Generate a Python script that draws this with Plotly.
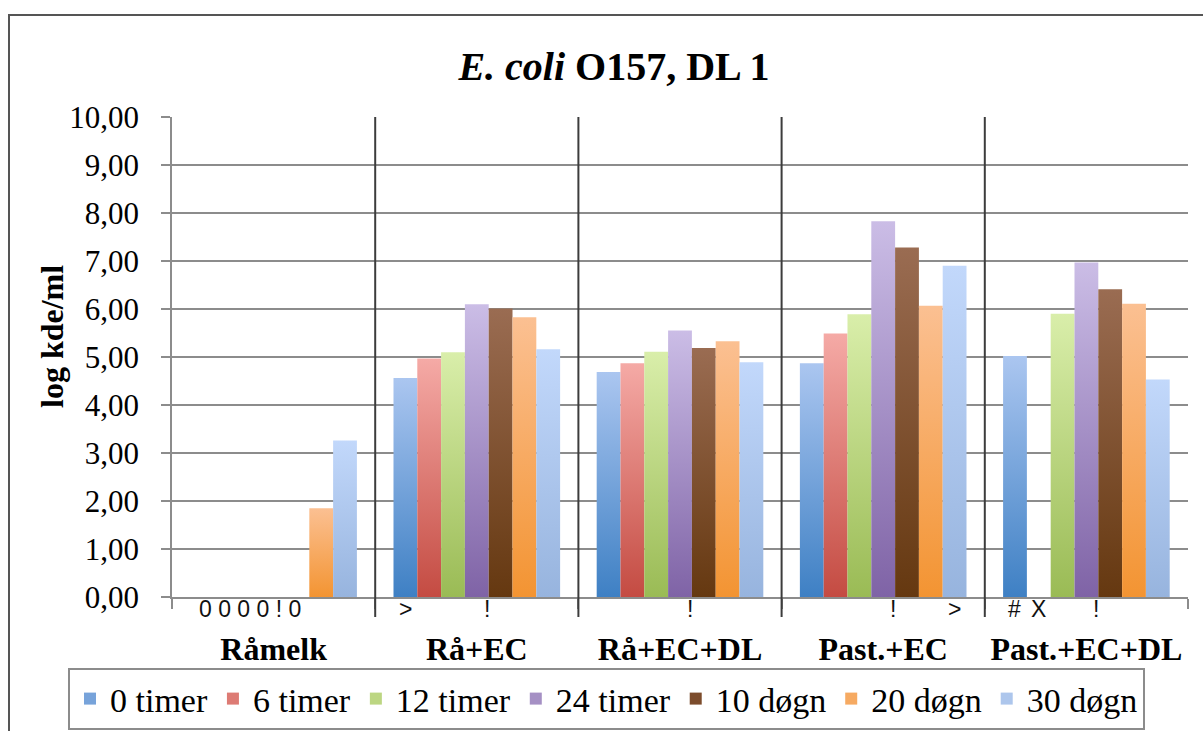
import json
import plotly.graph_objects as go

# Sample groups along the x axis
categories = ["Råmelk", "Rå+EC", "Rå+EC+DL", "Past.+EC", "Past.+EC+DL"]

# Sampling times (one bar series each) and their log kde/ml values
series_names = ["0 timer", "6 timer", "12 timer", "24 timer", "10 døgn", "20 døgn", "30 døgn"]
vals_0t = [0, 4.56, 4.69, 4.87, 5.02]
vals_6t = [0, 4.97, 4.87, 5.49, None]
vals_12t = [0, 5.10, 5.11, 5.89, 5.90]
vals_24t = [0, 6.10, 5.55, 7.83, 6.97]
vals_10d = [0, 6.01, 5.19, 7.28, 6.41]
vals_20d = [1.85, 5.83, 5.33, 6.07, 6.11]
vals_30d = [3.26, 5.16, 4.89, 6.90, 4.53]
series_values = [vals_0t, vals_6t, vals_12t, vals_24t, vals_10d, vals_20d, vals_30d]

# Small marks printed under the bars: (group, series the mark sits under, text)
notes = [
    ("Råmelk", "12 timer", "0 0 0 0 ! 0"),
    ("Rå+EC", "0 timer", ">"),
    ("Rå+EC", "24 timer", "!"),
    ("Rå+EC+DL", "24 timer", "!"),
    ("Past.+EC", "24 timer", "!"),
    ("Past.+EC", "30 døgn", ">"),
    ("Past.+EC+DL", "0 timer", "#"),
    ("Past.+EC+DL", "6 timer", "X"),
    ("Past.+EC+DL", "24 timer", "!"),
]

# Gradient colours per series (top, bottom)
grad_top = ["#abc6f0", "#f5aaa6", "#d9eeaa", "#cbbde6", "#9a6c52", "#fbc092", "#c2d8fb"]
grad_bot = ["#3e80c4", "#c44b42", "#9abb55", "#7f63a6", "#653810", "#f39432", "#97b4de"]
mid_col = ["#77a3da", "#dd7b74", "#bcd682", "#a590c4", "#7c4c2c", "#f6aa62", "#adc6ec"]

SERIF = "Liberation Serif"
SANS = "Liberation Sans"
GRID = "#8c8c8c"
DARK = "#3c3c3c"

W, H = 1203, 731
ML, MR, MT, MB = 172, 15, 117, 134
PW = W - ML - MR
PH = H - MT - MB

BARGAP = 0.18

fig = go.Figure()
for name, vals, col in zip(series_names, series_values, mid_col):
    fig.add_trace(go.Bar(
        name=name, x=categories, y=vals,
        marker=dict(color=col, line=dict(width=0)),
    ))

# Notes under the bars, placed at the slot of the bar they belong to
n_series = len(series_names)
slot_w = (1 - BARGAP) / n_series
nudge = {"!": 10}
annotations = []
for cat, ser, txt in notes:
    k = series_names.index(ser)
    xpos = categories.index(cat) + (k - (n_series - 1) / 2) * slot_w
    annotations.append(dict(
        x=xpos, xref="x", y=-12 / PH, yref="paper", yanchor="middle",
        xanchor="center", xshift=nudge.get(txt, 0),
        text=txt, showarrow=False, font=dict(family=SANS, size=23, color="#111"),
    ))

# y-axis title
annotations.append(dict(
    x=(52 - ML) / PW, xref="paper", y=(PH + MT - 337) / PH, yref="paper",
    xanchor="center", yanchor="middle",
    text="<b>log kde/ml</b>", textangle=-90, showarrow=False,
    font=dict(family=SERIF, size=32, color="black"),
))

shapes = []
# outer chart frame
shapes.append(dict(
    type="rect", xref="paper", yref="paper",
    x0=(9 - ML) / PW, x1=1.1, y0=-0.5, y1=(PH + MT - 15) / PH,
    line=dict(color="#555555", width=2), fillcolor="rgba(0,0,0,0)", layer="below",
))
# dividers between groups
n_cat = len(categories)
for k in range(1, n_cat):
    shapes.append(dict(
        type="line", xref="paper", yref="paper",
        x0=k / n_cat, x1=k / n_cat, y0=-20 / PH, y1=1,
        line=dict(color=DARK, width=2), layer="above",
    ))

fig.update_layout(
    width=W, height=H,
    margin=dict(l=ML, r=MR, t=MT, b=MB, autoexpand=False),
    paper_bgcolor="white", plot_bgcolor="white",
    font=dict(family=SERIF, color="black"),
    separators=", ",
    barmode="group", bargap=BARGAP, bargroupgap=0,
    title=dict(
        text="<b><i>E. coli</i> O157, DL 1</b>",
        x=614 / W, xanchor="center", xref="container",
        y=1 - 66 / H, yanchor="middle", yref="container",
        font=dict(family=SERIF, size=40, color="black"),
    ),
    xaxis=dict(
        type="category", range=[-0.5, n_cat - 0.5], automargin=False,
        showline=True, linecolor=GRID, linewidth=1.5,
        ticks="outside", tickson="boundaries", ticklen=10, tickwidth=1.5, tickcolor=GRID,
        showgrid=False, ticklabelstandoff=23,
        tickfont=dict(family=SERIF, size=32, color="black", weight="bold"),
    ),
    yaxis=dict(
        range=[0, 10], dtick=1, tickformat=".2f", automargin=False,
        showline=True, linecolor=GRID, linewidth=1.5,
        ticks="outside", ticklen=9, tickwidth=1.5, tickcolor=GRID,
        showgrid=True, gridcolor=GRID, gridwidth=1.5,
        zeroline=False, ticklabelstandoff=16,
        tickfont=dict(family=SERIF, size=31, color="black"),
    ),
    legend=dict(
        orientation="h", xref="paper", yref="paper",
        x=(68 - ML) / PW, xanchor="left", y=(PH + MT - 699) / PH, yanchor="middle",
        bordercolor=GRID, borderwidth=2, bgcolor="white",
        font=dict(family=SERIF, size=34, color="black"),
        itemwidth=30,
    ),
    annotations=annotations,
    shapes=shapes,
    showlegend=True,
)

# Vertical colour gradient on the bars and legend swatches
gradient_js = """
(function(){
var gd = document.getElementById('{plot_id}');
var tops = TOPS, bots = BOTS;
var ns = 'http://www.w3.org/2000/svg';
function ensureDefs(){
  var svg = gd.querySelector('svg.main-svg');
  var defs = svg.querySelector('defs');
  for (var i = 0; i < tops.length; i++) {
    var id = 'bargrad' + i;
    if (document.getElementById(id)) continue;
    var lg = document.createElementNS(ns, 'linearGradient');
    lg.setAttribute('id', id);
    lg.setAttribute('x1', '0'); lg.setAttribute('y1', '0');
    lg.setAttribute('x2', '0'); lg.setAttribute('y2', '1');
    var s1 = document.createElementNS(ns, 'stop');
    s1.setAttribute('offset', '0'); s1.setAttribute('stop-color', tops[i]);
    var s2 = document.createElementNS(ns, 'stop');
    s2.setAttribute('offset', '1'); s2.setAttribute('stop-color', bots[i]);
    lg.appendChild(s1); lg.appendChild(s2); defs.appendChild(lg);
  }
}
function paint(){
  ensureDefs();
  gd.querySelectorAll('.barlayer .trace.bars').forEach(function(tr, i){
    tr.querySelectorAll('path').forEach(function(p){ p.style.fill = 'url(#bargrad' + i + ')'; });
  });
  gd.querySelectorAll('.legend .traces').forEach(function(tr, i){
    tr.querySelectorAll('path.legendbar').forEach(function(p){ p.style.fill = 'url(#bargrad' + i + ')'; });
  });
}
paint();
gd.on('plotly_afterplot', paint);
})();
""".replace("TOPS", json.dumps(grad_top)).replace("BOTS", json.dumps(grad_bot))

fig.write_html("out.html", post_script=gradient_js)
